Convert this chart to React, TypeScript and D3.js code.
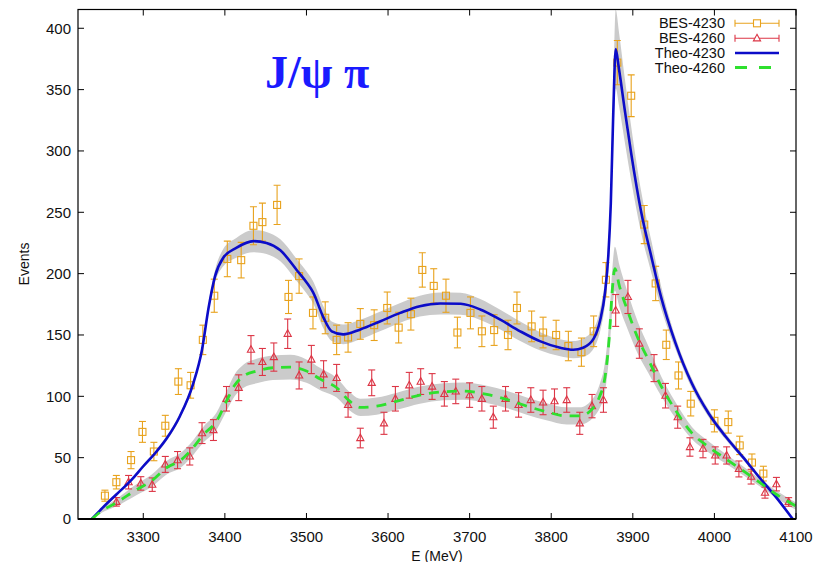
import React from 'react';
import * as d3 from 'd3';

// ---------- data ----------
const xTicks = [3300, 3400, 3500, 3600, 3700, 3800, 3900, 4000, 4100];
const yTicks = [0, 50, 100, 150, 200, 250, 300, 350, 400];

const bes4230E = [3253, 3267, 3285, 3299, 3313, 3327, 3343, 3358, 3373, 3387, 3403, 3420, 3435, 3446, 3464, 3478, 3491, 3508, 3523, 3537, 3551, 3566, 3583, 3599, 3613, 3628, 3642, 3656, 3671, 3685, 3701, 3715, 3730, 3747, 3758, 3776, 3790, 3806, 3821, 3837, 3852, 3867, 3881, 3898, 3914, 3928, 3941, 3956, 3971, 4000, 4017, 4031, 4046, 4060];
const bes4230V = [19, 30, 48, 71, 55, 76, 112, 109, 146, 182, 212, 211, 239, 242, 256, 181, 198, 168, 164, 146, 148, 159, 158, 172, 156, 167, 203, 190, 182, 152, 168, 153, 154, 150, 172, 157, 152, 150, 141, 136, 153, 195, 372, 345, 240, 192, 142, 117, 94, 80, 79, 60, 46, 37];
const bes4230Err = [4.5, 5.5, 7, 8.5, 7.5, 8.5, 10.5, 10.5, 12, 13.5, 14.5, 14.5, 15.5, 15.5, 16, 13.5, 14, 13, 13, 12, 12, 12.5, 12.5, 13, 12.5, 13, 14, 14, 13.5, 12.5, 13, 12.5, 12.5, 12, 13, 12.5, 12.5, 12, 12, 11.5, 12.5, 14, 18, 17, 15.5, 14, 12, 11, 10, 9, 9, 7.5, 7, 6];

const bes4260E = [3267, 3282, 3297, 3311, 3327, 3342, 3357, 3372, 3386, 3402, 3417, 3432, 3446, 3460, 3477, 3491, 3506, 3521, 3537, 3551, 3566, 3580, 3595, 3609, 3626, 3640, 3654, 3669, 3683, 3700, 3715, 3729, 3744, 3760, 3775, 3790, 3804, 3819, 3835, 3850, 3864, 3879, 3894, 3908, 3926, 3940, 3955, 3970, 3986, 4001, 4015, 4030, 4045, 4062, 4076, 4091];
const bes4260V = [14, 30, 29, 28, 44.5, 48, 51, 70, 72.5, 98, 107, 138, 128, 132, 151, 117, 130, 118, 115, 93, 66, 111, 78, 98, 109, 112, 108, 102, 104, 101, 98, 83, 98, 93, 97, 95, 96, 97, 78, 92, 97, 170, 181, 143, 123, 100.5, 83, 58.7, 57.4, 51.8, 51.8, 40.8, 34.5, 21.5, 28.4, 13.9];
const bes4260Err = [3.5, 5.5, 5.5, 5.5, 6.5, 7, 7, 8.5, 8.5, 10, 10.5, 11.5, 11, 11.5, 12, 11, 11.5, 11, 11, 10, 8, 10.5, 9, 10, 10.5, 10.5, 10.5, 10, 10, 10, 10, 9, 10, 10, 10, 10, 10, 10, 9, 9.5, 10, 13, 13.5, 12, 11, 10, 9, 7.5, 7.5, 7, 7, 6.5, 6, 4.5, 5.5, 3.5];

const theo4230E = [3237, 3250, 3267, 3285, 3300, 3315, 3329, 3345, 3361, 3372, 3380, 3388, 3398, 3414, 3435, 3451, 3468, 3488, 3500, 3508, 3521, 3531, 3545, 3566, 3590, 3615, 3639, 3664, 3689, 3713, 3737, 3762, 3786, 3811, 3827, 3839, 3852, 3860, 3866, 3870, 3873, 3876, 3879, 3883, 3890, 3898, 3910, 3923, 3935, 3952, 3972, 3993, 4014, 4035, 4055, 4076, 4096];
const theo4230V = [0, 9, 20, 31.5, 43, 54, 66, 84, 110, 138, 172, 198, 213, 221, 226.5, 225, 219, 203, 193, 185, 164, 153, 150.5, 154.5, 161, 168, 173.5, 175.7, 175.4, 170.8, 162.7, 153, 145, 139.6, 138, 139.6, 147, 162, 185, 215, 257, 330, 383, 367, 334, 298, 251, 213, 180, 144, 111, 86, 67, 50.4, 34, 17.4, 0];
const theo4230Band = [0.5, 1, 1, 1, 1.5, 1.5, 2, 2, 2, 2, 3, 5, 7, 8, 9, 9, 9, 9, 9, 9, 9, 8, 8, 8, 8, 8, 8.5, 9, 9, 8.5, 8, 8, 7.5, 7, 7, 7.5, 8, 9, 10, 12, 15, 22, 32, 30, 26, 22, 17, 13, 9, 5, 4, 3, 2.5, 2, 1.5, 1, 0.5];

const theo4260E = [3237, 3250, 3267, 3292, 3310, 3329, 3345, 3357, 3374, 3390, 3402, 3412, 3423, 3439, 3459, 3480, 3500, 3517, 3537, 3553, 3566, 3586, 3611, 3639, 3668, 3692, 3721, 3745, 3770, 3794, 3819, 3835, 3852, 3860, 3865, 3871, 3875, 3878, 3883.5, 3894, 3906.5, 3919, 3935, 3952, 3972.5, 3993, 4014, 4035, 4055, 4076, 4100];
const theo4260V = [0, 7, 13.3, 24, 31, 42, 47.5, 55, 69, 80, 96, 109, 116.5, 120.6, 123.3, 123.8, 120.6, 114, 107, 96, 91, 92, 96, 101, 103.7, 104.3, 101.6, 97.5, 92, 87.4, 84, 84, 91, 101, 112, 147, 188, 204, 190, 169, 147, 130, 108, 89, 70, 58.7, 49, 39.4, 30, 20, 10.5];
const theo4260Band = [0.5, 1.5, 3, 4.5, 5, 5.5, 6, 6, 6.5, 7, 8, 9, 9.5, 10, 10, 10, 9.5, 9, 8, 7.5, 7, 7, 7, 7, 7, 7, 7, 7, 7, 7, 7, 7, 8, 10, 12, 14, 17, 18, 17, 15, 13, 11, 8, 6.5, 5, 4.5, 4, 3.5, 3, 3, 3];

const legendLabels = ['BES-4230', 'BES-4260', 'Theo-4230', 'Theo-4260'];
const titleText = 'J/\u03c8 \u03c0';

// ---------- styles ----------
const ORANGE = '#e8a21c';
const RED = '#dc3545';
const BLUE = '#0c0cc8';
const GREEN = '#2ee02e';
const GREY = '#cbcbcb';
const FONT = '"Liberation Sans", Arial, Helvetica, sans-serif';

export default function App() {
  const W = 817, H = 562;
  const left = 78, right = 796, top = 9.5, bottom = 519;
  const x = d3.scaleLinear().domain([3220, 4100]).range([left, right]);
  const y = d3.scaleLinear().domain([0, 415.3]).range([bottom, top]);

  const mkLine = (E: number[], V: number[]) =>
    d3.line<number>().x((_, i) => x(E[i])).y((_, i) => y(V[i])).curve(d3.curveMonotoneX)(V.map((v) => v)) || '';
  const mkArea = (E: number[], V: number[], B: number[]) =>
    d3.area<number>()
      .x((_, i) => x(E[i]))
      .y0((_, i) => y(Math.max(0, V[i] - B[i])))
      .y1((_, i) => y(V[i] + B[i]))
      .curve(d3.curveMonotoneX)(V.map((v) => v)) || '';

  const errBars = (E: number[], V: number[], Er: number[], color: string, kind: 'sq' | 'tri') =>
    E.map((e, i) => {
      const cx = x(e), cy = y(V[i]);
      const y1 = y(V[i] + Er[i]), y2 = y(Math.max(0, V[i] - Er[i]));
      return (
        <g key={kind + i} stroke={color} strokeWidth={1.1} fill="none">
          <line x1={cx} x2={cx} y1={y1} y2={y2} />
          <line x1={cx - 3.5} x2={cx + 3.5} y1={y1} y2={y1} />
          <line x1={cx - 3.5} x2={cx + 3.5} y1={y2} y2={y2} />
          {kind === 'sq' ? (
            <rect x={cx - 3.5} y={cy - 3.5} width={7} height={7} fill="none" />
          ) : (
            <path d={`M${cx},${cy - 4} L${cx + 3.6},${cy + 2.6} L${cx - 3.6},${cy + 2.6} Z`} fill="none" />
          )}
        </g>
      );
    });

  const legendY = [23.3, 38.3, 53.0, 67.5];
  const lx1 = 735, lx2 = 779, lxm = 757;

  return (
    <svg width={W} height={H} style={{ position: 'absolute', left: 0, top: 0, background: '#fff' }}>
      <rect x={0} y={0} width={W} height={H} fill="#fff" />
      <defs>
        <clipPath id="plotclip">
          <rect x={left} y={top} width={right - left} height={bottom - top} />
        </clipPath>
      </defs>

      <g clipPath="url(#plotclip)">
        <path d={mkArea(theo4230E, theo4230V, theo4230Band)} fill={GREY} />
        <path d={mkArea(theo4260E, theo4260V, theo4260Band)} fill={GREY} />
        {errBars(bes4230E, bes4230V, bes4230Err, ORANGE, 'sq')}
        {errBars(bes4260E, bes4260V, bes4260Err, RED, 'tri')}
        <path d={mkLine(theo4230E, theo4230V)} fill="none" stroke={BLUE} strokeWidth={2.6} />
        <path d={mkLine(theo4260E, theo4260V)} fill="none" stroke={GREEN} strokeWidth={2.8} strokeDasharray="10,8" />
      </g>

      {/* frame */}
      <rect x={left} y={top} width={right - left} height={bottom - top} fill="none" stroke="#000" strokeWidth={1.2} />
      <line x1={left} x2={right} y1={bottom} y2={bottom} stroke="#000" strokeWidth={1.8} />

      {/* x ticks */}
      {xTicks.map((t) => (
        <g key={'xt' + t}>
          <line x1={x(t)} x2={x(t)} y1={bottom} y2={bottom - 6} stroke="#000" strokeWidth={1} />
          <line x1={x(t)} x2={x(t)} y1={top} y2={top + 6} stroke="#000" strokeWidth={1} />
          <text x={x(t)} y={541.5} textAnchor="middle" fontFamily={FONT} fontSize={15} fill="#111">{t}</text>
        </g>
      ))}
      {/* y ticks */}
      {yTicks.map((t) => (
        <g key={'yt' + t}>
          <line x1={left} x2={left + 6} y1={y(t)} y2={y(t)} stroke="#000" strokeWidth={1} />
          <line x1={right} x2={right - 6} y1={y(t)} y2={y(t)} stroke="#000" strokeWidth={1} />
          <text x={71} y={y(t) + 5.3} textAnchor="end" fontFamily={FONT} fontSize={15} fill="#111">{t}</text>
        </g>
      ))}

      <text x={437} y={560.5} textAnchor="middle" fontFamily={FONT} fontSize={14} fill="#111">E (MeV)</text>
      <text transform="translate(28.5,264) rotate(-90)" textAnchor="middle" fontFamily={FONT} fontSize={14} fill="#111">Events</text>

      {/* title */}
      <text x={265} y={88.3} fontFamily='"Liberation Serif", "Times New Roman", serif' fontWeight="bold" fontSize={46} fill="#1a1aff">{titleText}</text>

      {/* legend */}
      {legendLabels.map((l, i) => (
        <text key={l} x={725} y={legendY[i] + 5} textAnchor="end" fontFamily={FONT} fontSize={14.5} fill="#111">{l}</text>
      ))}
      <g stroke={ORANGE} strokeWidth={1.1} fill="none">
        <line x1={lx1} x2={lx2} y1={legendY[0]} y2={legendY[0]} />
        <line x1={lx1} x2={lx1} y1={legendY[0] - 3.5} y2={legendY[0] + 3.5} />
        <line x1={lx2} x2={lx2} y1={legendY[0] - 3.5} y2={legendY[0] + 3.5} />
        <rect x={lxm - 3.5} y={legendY[0] - 3.5} width={7} height={7} fill="#fff" />
      </g>
      <g stroke={RED} strokeWidth={1.1} fill="none">
        <line x1={lx1} x2={lx2} y1={legendY[1]} y2={legendY[1]} />
        <line x1={lx1} x2={lx1} y1={legendY[1] - 3.5} y2={legendY[1] + 3.5} />
        <line x1={lx2} x2={lx2} y1={legendY[1] - 3.5} y2={legendY[1] + 3.5} />
        <path d={`M${lxm},${legendY[1] - 4} L${lxm + 3.6},${legendY[1] + 2.6} L${lxm - 3.6},${legendY[1] + 2.6} Z`} fill="#fff" />
      </g>
      <line x1={lx1} x2={lx2} y1={legendY[2]} y2={legendY[2]} stroke={BLUE} strokeWidth={2.6} />
      <line x1={lx1} x2={lx2} y1={legendY[3]} y2={legendY[3]} stroke={GREEN} strokeWidth={2.8} strokeDasharray="12,12" />
    </svg>
  );
}
